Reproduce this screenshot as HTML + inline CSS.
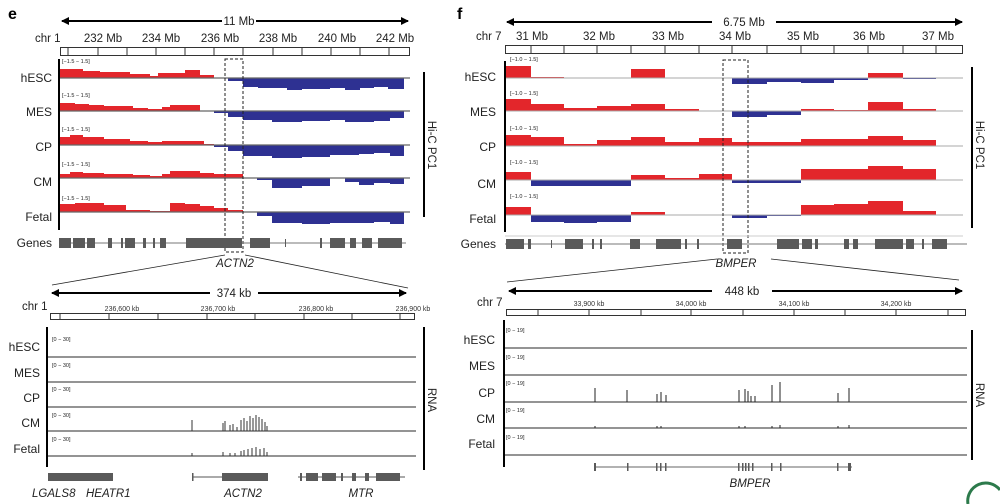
<!DOCTYPE html>
<html><head><meta charset="utf-8"><style>
html,body{margin:0;padding:0;background:#fff;}
svg{display:block;font-family:"Liberation Sans",Arial,sans-serif;}
.t{font-size:11.5px;fill:#222}
.l{font-size:12px;fill:#222;text-anchor:end}
.r{font-size:5.5px;fill:#222}
.s{font-size:7px;fill:#333;text-anchor:middle}
.it{font-style:italic;font-size:11.5px;fill:#222;text-anchor:middle}
.R{fill:#e3262b}.B{fill:#2e3192}.g{fill:#5a5a5a}
</style></head><body>
<svg width="1000" height="504" viewBox="0 0 1000 504">
<defs><marker id="a" markerWidth="8" markerHeight="8" refX="7" refY="4" orient="auto-start-reverse" markerUnits="userSpaceOnUse"><path d="M0,0 L8,4 L0,8 z" fill="#000"/></marker></defs>

<text x="8" y="19" style="font-size:16px;font-weight:bold">e</text>
<line x1="62" y1="21" x2="222" y2="21" stroke="#000" stroke-width="2" marker-start="url(#a)"/>
<line x1="256" y1="21" x2="408" y2="21" stroke="#000" stroke-width="2" marker-end="url(#a)"/>
<text x="239" y="25" class="t" text-anchor="middle">11 Mb</text>
<text x="35" y="42" class="t">chr 1</text>
<text x="103" y="42" class="t" text-anchor="middle">232 Mb</text>
<text x="161" y="42" class="t" text-anchor="middle">234 Mb</text>
<text x="220" y="42" class="t" text-anchor="middle">236 Mb</text>
<text x="278" y="42" class="t" text-anchor="middle">238 Mb</text>
<text x="337" y="42" class="t" text-anchor="middle">240 Mb</text>
<text x="395" y="42" class="t" text-anchor="middle">242 Mb</text>
<rect x="60.5" y="47.5" width="349" height="8" fill="none" stroke="#333"/>
<g stroke="#333"><line x1="68" y1="47" x2="68" y2="56"/><line x1="98" y1="47" x2="98" y2="56"/><line x1="127" y1="47" x2="127" y2="56"/><line x1="156" y1="47" x2="156" y2="56"/><line x1="185" y1="47" x2="185" y2="56"/><line x1="214" y1="47" x2="214" y2="56"/><line x1="243" y1="47" x2="243" y2="56"/><line x1="273" y1="47" x2="273" y2="56"/><line x1="302" y1="47" x2="302" y2="56"/><line x1="331" y1="47" x2="331" y2="56"/><line x1="360" y1="47" x2="360" y2="56"/><line x1="389" y1="47" x2="389" y2="56"/></g>
<line x1="59" y1="59" x2="59" y2="230" stroke="#000" stroke-width="2"/>
<line x1="424" y1="72" x2="424" y2="217" stroke="#000" stroke-width="2"/>
<text transform="translate(428,145) rotate(90)" class="t" text-anchor="middle">Hi-C PC1</text>
<g class="l"><text x="52" y="82">hESC</text><text x="52" y="116">MES</text><text x="52" y="151">CP</text><text x="52" y="186">CM</text><text x="52" y="221">Fetal</text></g>
<g class="r"><text x="62" y="63">[−1.5 − 1.5]</text><text x="62" y="97">[−1.5 − 1.5]</text><text x="62" y="131">[−1.5 − 1.5]</text><text x="62" y="166">[−1.5 − 1.5]</text><text x="62" y="200">[−1.5 − 1.5]</text></g>
<g class="R"><rect x="60" y="69" width="23" height="9"/><rect x="83" y="71" width="17" height="7"/><rect x="100" y="72" width="30" height="6"/><rect x="130" y="74" width="20" height="4"/><rect x="150" y="76" width="8" height="2"/><rect x="158" y="73" width="27" height="5"/><rect x="185" y="70" width="15" height="8"/><rect x="200" y="75" width="14" height="3"/></g>
<g class="B"><rect x="228" y="78" width="15" height="3"/><rect x="243" y="78" width="15" height="9"/><rect x="258" y="78" width="29" height="10"/><rect x="287" y="78" width="15" height="12"/><rect x="302" y="78" width="28" height="11"/><rect x="330" y="78" width="15" height="10"/><rect x="345" y="78" width="15" height="12"/><rect x="360" y="78" width="14" height="10"/><rect x="374" y="78" width="14" height="9"/><rect x="388" y="78" width="16" height="11"/></g>
<g class="R"><rect x="60" y="103" width="15" height="8"/><rect x="75" y="104" width="14" height="7"/><rect x="89" y="105" width="15" height="6"/><rect x="104" y="106" width="29" height="5"/><rect x="133" y="108" width="15" height="3"/><rect x="148" y="109" width="14" height="2"/><rect x="162" y="107" width="8" height="4"/><rect x="170" y="105" width="30" height="6"/></g>
<g class="B"><rect x="214" y="111" width="14" height="2"/><rect x="228" y="111" width="15" height="6"/><rect x="243" y="111" width="29" height="9"/><rect x="272" y="111" width="30" height="11"/><rect x="302" y="111" width="28" height="10"/><rect x="330" y="111" width="15" height="9"/><rect x="345" y="111" width="29" height="11"/><rect x="374" y="111" width="16" height="10"/><rect x="390" y="111" width="14" height="7"/></g>
<g class="R"><rect x="60" y="137" width="10" height="8"/><rect x="70" y="135" width="13" height="10"/><rect x="83" y="137" width="21" height="8"/><rect x="104" y="139" width="26" height="6"/><rect x="130" y="141" width="18" height="4"/><rect x="148" y="142" width="14" height="3"/><rect x="162" y="141" width="42" height="4"/><rect x="204" y="144" width="10" height="1"/></g>
<g class="B"><rect x="214" y="145" width="14" height="2"/><rect x="228" y="145" width="15" height="6"/><rect x="243" y="145" width="29" height="11"/><rect x="272" y="145" width="30" height="13"/><rect x="302" y="145" width="28" height="12"/><rect x="330" y="145" width="29" height="10"/><rect x="359" y="145" width="15" height="9"/><rect x="374" y="145" width="16" height="8"/><rect x="390" y="145" width="14" height="11"/></g>
<g class="R"><rect x="60" y="174" width="10" height="4"/><rect x="70" y="172" width="13" height="6"/><rect x="83" y="173" width="21" height="5"/><rect x="104" y="174" width="29" height="4"/><rect x="133" y="175" width="17" height="3"/><rect x="150" y="176" width="12" height="2"/><rect x="162" y="174" width="8" height="4"/><rect x="170" y="171" width="30" height="7"/><rect x="200" y="173" width="14" height="5"/><rect x="214" y="174" width="29" height="4"/></g>
<g class="B"><rect x="257" y="178" width="15" height="2"/><rect x="272" y="178" width="30" height="10"/><rect x="302" y="178" width="28" height="8"/><rect x="345" y="178" width="14" height="4"/><rect x="359" y="178" width="15" height="7"/><rect x="374" y="178" width="16" height="5"/><rect x="390" y="178" width="14" height="6"/></g>
<g class="R"><rect x="60" y="204" width="15" height="8"/><rect x="75" y="203" width="29" height="9"/><rect x="104" y="205" width="22" height="7"/><rect x="126" y="210" width="24" height="2"/><rect x="150" y="211" width="20" height="1"/><rect x="170" y="203" width="15" height="9"/><rect x="185" y="204" width="15" height="8"/><rect x="200" y="206" width="14" height="6"/><rect x="214" y="208" width="14" height="4"/><rect x="228" y="210" width="15" height="2"/></g>
<g class="B"><rect x="257" y="212" width="15" height="4"/><rect x="272" y="212" width="30" height="11"/><rect x="302" y="212" width="28" height="12"/><rect x="330" y="212" width="44" height="11"/><rect x="374" y="212" width="16" height="10"/><rect x="390" y="212" width="14" height="12"/></g>
<g stroke="#666" stroke-width="1.2"><line x1="60" y1="78" x2="410" y2="78"/><line x1="60" y1="111" x2="410" y2="111"/><line x1="60" y1="145" x2="410" y2="145"/><line x1="60" y1="178" x2="410" y2="178"/><line x1="60" y1="212" x2="410" y2="212"/></g>
<rect x="225" y="59" width="18" height="193" fill="none" stroke="#222" stroke-dasharray="3,2"/>
<text x="52" y="247" class="l">Genes</text>
<line x1="59" y1="243" x2="406" y2="243" stroke="#777"/>
<g class="g"><rect x="59" y="238" width="12" height="10"/><rect x="73" y="238" width="12" height="10"/><rect x="87" y="238" width="8" height="10"/><rect x="108" y="238" width="4" height="10"/><rect x="121" y="238" width="2" height="10"/><rect x="125" y="238" width="10" height="10"/><rect x="143" y="238" width="3" height="10"/><rect x="153" y="238" width="2" height="10"/><rect x="160" y="238" width="6" height="10"/><rect x="186" y="238" width="56" height="10"/><rect x="250" y="238" width="20" height="10"/><rect x="285" y="239" width="1" height="8"/><rect x="320" y="238" width="2" height="10"/><rect x="330" y="238" width="15" height="10"/><rect x="350" y="238" width="6" height="10"/><rect x="362" y="238" width="10" height="10"/><rect x="378" y="238" width="24" height="10"/></g>
<text x="235" y="267" class="it">ACTN2</text>
<line x1="225" y1="255" x2="52" y2="285" stroke="#222" stroke-width="0.8"/>
<line x1="245" y1="255" x2="408" y2="288" stroke="#222" stroke-width="0.8"/>

<line x1="52" y1="293" x2="210" y2="293" stroke="#000" stroke-width="2" marker-start="url(#a)"/>
<line x1="258" y1="293" x2="406" y2="293" stroke="#000" stroke-width="2" marker-end="url(#a)"/>
<text x="234" y="297" class="t" text-anchor="middle">374 kb</text>
<text x="22" y="310" class="t">chr 1</text>
<g class="s"><text x="122" y="311">236,600 kb</text><text x="218" y="311">236,700 kb</text><text x="316" y="311">236,800 kb</text><text x="413" y="311">236,900 kb</text></g>
<rect x="50.5" y="313.5" width="364" height="6" fill="none" stroke="#333"/>
<g stroke="#333"><line x1="60" y1="313" x2="60" y2="320"/><line x1="109" y1="313" x2="109" y2="320"/><line x1="158" y1="313" x2="158" y2="320"/><line x1="207" y1="313" x2="207" y2="320"/><line x1="255" y1="313" x2="255" y2="320"/><line x1="304" y1="313" x2="304" y2="320"/><line x1="352" y1="313" x2="352" y2="320"/><line x1="400" y1="313" x2="400" y2="320"/></g>
<line x1="47" y1="327" x2="47" y2="467" stroke="#000" stroke-width="2"/>
<line x1="424" y1="327" x2="424" y2="470" stroke="#000" stroke-width="2"/>
<text transform="translate(428,400) rotate(90)" class="t" text-anchor="middle">RNA</text>
<g class="l"><text x="40" y="351">hESC</text><text x="40" y="377">MES</text><text x="40" y="402">CP</text><text x="40" y="427">CM</text><text x="40" y="453">Fetal</text></g>
<g class="r"><text x="52" y="341">[0 − 30]</text><text x="52" y="367">[0 − 30]</text><text x="52" y="391">[0 − 30]</text><text x="52" y="417">[0 − 30]</text><text x="52" y="441">[0 − 30]</text></g>
<g stroke="#555" stroke-width="1.2"><line x1="48" y1="357" x2="416" y2="357"/><line x1="48" y1="382" x2="416" y2="382"/><line x1="48" y1="407" x2="416" y2="407"/><line x1="48" y1="431" x2="416" y2="431"/><line x1="48" y1="456" x2="416" y2="456"/></g>
<g stroke="#333" stroke-width="1"><line x1="192" y1="431" x2="192" y2="420"/><line x1="223" y1="431" x2="223" y2="423"/><line x1="225" y1="431" x2="225" y2="421"/><line x1="230" y1="431" x2="230" y2="425"/><line x1="233" y1="431" x2="233" y2="424"/><line x1="237" y1="431" x2="237" y2="427"/><line x1="241" y1="431" x2="241" y2="420"/><line x1="244" y1="431" x2="244" y2="418"/><line x1="247" y1="431" x2="247" y2="421"/><line x1="250" y1="431" x2="250" y2="416"/><line x1="253" y1="431" x2="253" y2="418"/><line x1="256" y1="431" x2="256" y2="415"/><line x1="259" y1="431" x2="259" y2="417"/><line x1="262" y1="431" x2="262" y2="419"/><line x1="265" y1="431" x2="265" y2="422"/><line x1="267" y1="431" x2="267" y2="426"/>
<line x1="192" y1="456" x2="192" y2="453"/><line x1="223" y1="456" x2="223" y2="452"/><line x1="230" y1="456" x2="230" y2="453"/><line x1="235" y1="456" x2="235" y2="453"/><line x1="241" y1="456" x2="241" y2="451"/><line x1="244" y1="456" x2="244" y2="450"/><line x1="248" y1="456" x2="248" y2="449"/><line x1="252" y1="456" x2="252" y2="448"/><line x1="256" y1="456" x2="256" y2="447"/><line x1="260" y1="456" x2="260" y2="449"/><line x1="264" y1="456" x2="264" y2="448"/><line x1="267" y1="456" x2="267" y2="452"/></g>
<line x1="192" y1="477" x2="268" y2="477" stroke="#555"/><line x1="298" y1="477" x2="405" y2="477" stroke="#555"/>
<g class="g"><rect x="48" y="473" width="65" height="8"/><rect x="192" y="473" width="1.5" height="8"/><rect x="222" y="473" width="46" height="8"/><rect x="300" y="473" width="2" height="8"/><rect x="306" y="473" width="12" height="8"/><rect x="322" y="473" width="14" height="8"/><rect x="341" y="473" width="2" height="8"/><rect x="352" y="473" width="4" height="8"/><rect x="365" y="473" width="4" height="8"/><rect x="376" y="473" width="24" height="8"/></g>
<text x="32" y="497" class="it" style="text-anchor:start">LGALS8</text>
<text x="86" y="497" class="it" style="text-anchor:start">HEATR1</text>
<text x="243" y="497" class="it">ACTN2</text>
<text x="361" y="497" class="it">MTR</text>

<text x="457" y="19" style="font-size:16px;font-weight:bold">f</text>
<line x1="507" y1="22" x2="712" y2="22" stroke="#000" stroke-width="2" marker-start="url(#a)"/>
<line x1="776" y1="22" x2="962" y2="22" stroke="#000" stroke-width="2" marker-end="url(#a)"/>
<text x="744" y="26" class="t" text-anchor="middle">6.75 Mb</text>
<text x="476" y="40" class="t">chr 7</text>
<g class="t" text-anchor="middle"><text x="532" y="40">31 Mb</text><text x="599" y="40">32 Mb</text><text x="668" y="40">33 Mb</text><text x="735" y="40">34 Mb</text><text x="803" y="40">35 Mb</text><text x="869" y="40">36 Mb</text><text x="938" y="40">37 Mb</text></g>
<rect x="505.5" y="45.5" width="457" height="8" fill="none" stroke="#333"/>
<g stroke="#333"><line x1="531" y1="45" x2="531" y2="54"/><line x1="564" y1="45" x2="564" y2="54"/><line x1="597" y1="45" x2="597" y2="54"/><line x1="631" y1="45" x2="631" y2="54"/><line x1="665" y1="45" x2="665" y2="54"/><line x1="699" y1="45" x2="699" y2="54"/><line x1="732" y1="45" x2="732" y2="54"/><line x1="767" y1="45" x2="767" y2="54"/><line x1="801" y1="45" x2="801" y2="54"/><line x1="834" y1="45" x2="834" y2="54"/><line x1="868" y1="45" x2="868" y2="54"/><line x1="903" y1="45" x2="903" y2="54"/><line x1="936" y1="45" x2="936" y2="54"/></g>
<line x1="505" y1="61" x2="505" y2="232" stroke="#000" stroke-width="2"/>
<line x1="972" y1="67" x2="972" y2="228" stroke="#000" stroke-width="2"/>
<text transform="translate(976,145) rotate(90)" class="t" text-anchor="middle">Hi-C PC1</text>
<g class="l"><text x="496" y="81">hESC</text><text x="496" y="116">MES</text><text x="496" y="151">CP</text><text x="496" y="188">CM</text><text x="496" y="223">Fetal</text></g>
<g class="r"><text x="510" y="61">[−1.0 − 1.5]</text><text x="510" y="95">[−1.0 − 1.5]</text><text x="510" y="130">[−1.0 − 1.5]</text><text x="510" y="164">[−1.0 − 1.5]</text><text x="510" y="198">[−1.0 − 1.5]</text></g>
<g class="R"><rect x="506" y="66" width="25" height="12"/><rect x="531" y="77" width="33" height="1"/><rect x="631" y="69" width="34" height="9"/><rect x="868" y="73" width="35" height="5"/></g>
<g class="B"><rect x="732" y="78" width="35" height="6"/><rect x="767" y="78" width="34" height="4"/><rect x="801" y="78" width="33" height="5"/><rect x="834" y="78" width="34" height="2"/><rect x="903" y="78" width="33" height="1"/></g>
<g class="R"><rect x="506" y="99" width="25" height="12"/><rect x="531" y="104" width="33" height="7"/><rect x="564" y="108" width="33" height="3"/><rect x="597" y="106" width="34" height="5"/><rect x="631" y="104" width="34" height="7"/><rect x="665" y="109" width="34" height="2"/><rect x="801" y="109" width="33" height="2"/><rect x="834" y="110" width="34" height="1"/><rect x="868" y="102" width="35" height="9"/><rect x="903" y="109" width="33" height="2"/></g>
<g class="B"><rect x="732" y="111" width="35" height="6"/><rect x="767" y="111" width="34" height="4"/></g>
<g class="R"><rect x="506" y="135" width="25" height="11"/><rect x="531" y="137" width="33" height="9"/><rect x="564" y="144" width="33" height="2"/><rect x="597" y="140" width="34" height="6"/><rect x="631" y="137" width="34" height="9"/><rect x="665" y="142" width="34" height="4"/><rect x="699" y="138" width="33" height="8"/><rect x="732" y="142" width="35" height="4"/><rect x="767" y="142" width="34" height="4"/><rect x="801" y="139" width="67" height="7"/><rect x="868" y="136" width="35" height="10"/><rect x="903" y="140" width="33" height="6"/></g>
<g class="R"><rect x="506" y="172" width="25" height="8"/><rect x="631" y="175" width="34" height="5"/><rect x="665" y="178" width="34" height="2"/><rect x="699" y="174" width="33" height="6"/><rect x="801" y="169" width="67" height="11"/><rect x="868" y="166" width="35" height="14"/><rect x="903" y="169" width="33" height="11"/></g>
<g class="B"><rect x="531" y="180" width="100" height="6"/><rect x="732" y="180" width="69" height="3"/></g>
<g class="R"><rect x="506" y="207" width="25" height="8"/><rect x="631" y="212" width="34" height="3"/><rect x="801" y="205" width="33" height="10"/><rect x="834" y="204" width="34" height="11"/><rect x="868" y="201" width="35" height="14"/><rect x="903" y="211" width="33" height="4"/></g>
<g class="B"><rect x="531" y="215" width="33" height="7"/><rect x="564" y="215" width="33" height="8"/><rect x="597" y="215" width="34" height="7"/><rect x="732" y="215" width="35" height="3"/><rect x="767" y="215" width="34" height="1"/></g>
<g stroke="#aaa" stroke-width="1"><line x1="506" y1="78" x2="963" y2="78"/><line x1="506" y1="111" x2="963" y2="111"/><line x1="506" y1="146" x2="963" y2="146"/><line x1="506" y1="180" x2="963" y2="180"/><line x1="506" y1="215" x2="963" y2="215"/></g>
<rect x="723" y="60" width="25" height="193" fill="none" stroke="#222" stroke-dasharray="3,2"/>
<text x="496" y="248" class="l">Genes</text>
<line x1="505" y1="236" x2="963" y2="236" stroke="#ccc"/>
<line x1="505" y1="244" x2="967" y2="244" stroke="#777"/>
<g class="g"><rect x="506" y="239" width="18" height="10"/><rect x="528" y="239" width="3" height="10"/><rect x="551" y="240" width="1" height="8"/><rect x="565" y="239" width="18" height="10"/><rect x="592" y="239" width="2" height="10"/><rect x="600" y="239" width="2" height="10"/><rect x="630" y="239" width="10" height="10"/><rect x="656" y="239" width="25" height="10"/><rect x="685" y="239" width="2" height="10"/><rect x="697" y="239" width="2" height="10"/><rect x="727" y="239" width="15" height="10"/><rect x="777" y="239" width="22" height="10"/><rect x="802" y="239" width="10" height="10"/><rect x="815" y="239" width="3" height="10"/><rect x="844" y="239" width="5" height="10"/><rect x="853" y="239" width="5" height="10"/><rect x="875" y="239" width="28" height="10"/><rect x="906" y="239" width="8" height="10"/><rect x="922" y="239" width="2" height="10"/><rect x="932" y="239" width="15" height="10"/></g>
<text x="736" y="267" class="it">BMPER</text>
<line x1="717" y1="259" x2="507" y2="282" stroke="#222" stroke-width="0.8"/>
<line x1="771" y1="259" x2="959" y2="280" stroke="#222" stroke-width="0.8"/>

<line x1="509" y1="291" x2="712" y2="291" stroke="#000" stroke-width="2" marker-start="url(#a)"/>
<line x1="772" y1="291" x2="962" y2="291" stroke="#000" stroke-width="2" marker-end="url(#a)"/>
<text x="742" y="295" class="t" text-anchor="middle">448 kb</text>
<text x="477" y="306" class="t">chr 7</text>
<g class="s"><text x="589" y="306">33,900 kb</text><text x="691" y="306">34,000 kb</text><text x="794" y="306">34,100 kb</text><text x="896" y="306">34,200 kb</text></g>
<rect x="506.5" y="309.5" width="459" height="6" fill="none" stroke="#333"/>
<g stroke="#333"><line x1="538" y1="309" x2="538" y2="316"/><line x1="589" y1="309" x2="589" y2="316"/><line x1="641" y1="309" x2="641" y2="316"/><line x1="691" y1="309" x2="691" y2="316"/><line x1="743" y1="309" x2="743" y2="316"/><line x1="794" y1="309" x2="794" y2="316"/><line x1="845" y1="309" x2="845" y2="316"/><line x1="896" y1="309" x2="896" y2="316"/><line x1="948" y1="309" x2="948" y2="316"/></g>
<line x1="504" y1="320" x2="504" y2="467" stroke="#000" stroke-width="2"/>
<line x1="972" y1="330" x2="972" y2="460" stroke="#000" stroke-width="2"/>
<text transform="translate(976,395) rotate(90)" class="t" text-anchor="middle">RNA</text>
<g class="l"><text x="495" y="344">hESC</text><text x="495" y="370">MES</text><text x="495" y="397">CP</text><text x="495" y="423">CM</text><text x="495" y="448">Fetal</text></g>
<g class="r"><text x="506" y="332">[0 − 19]</text><text x="506" y="359">[0 − 19]</text><text x="506" y="385">[0 − 19]</text><text x="506" y="412">[0 − 19]</text><text x="506" y="439">[0 − 19]</text></g>
<g stroke="#555" stroke-width="1.2"><line x1="505" y1="348" x2="967" y2="348"/><line x1="505" y1="375" x2="967" y2="375"/><line x1="505" y1="402" x2="967" y2="402"/><line x1="505" y1="428" x2="967" y2="428"/><line x1="505" y1="455" x2="967" y2="455"/></g>
<g stroke="#222" stroke-width="1"><line x1="595" y1="402" x2="595" y2="388"/><line x1="627" y1="402" x2="627" y2="390"/><line x1="657" y1="402" x2="657" y2="394"/><line x1="661" y1="402" x2="661" y2="392"/><line x1="666" y1="402" x2="666" y2="395"/><line x1="739" y1="402" x2="739" y2="390"/><line x1="745" y1="402" x2="745" y2="389"/><line x1="748" y1="402" x2="748" y2="391"/><line x1="751" y1="402" x2="751" y2="396"/><line x1="755" y1="402" x2="755" y2="396"/><line x1="772" y1="402" x2="772" y2="385"/><line x1="780" y1="402" x2="780" y2="382"/><line x1="838" y1="402" x2="838" y2="393"/><line x1="849" y1="402" x2="849" y2="388"/>
<line x1="595" y1="428" x2="595" y2="426"/><line x1="657" y1="428" x2="657" y2="426"/><line x1="661" y1="428" x2="661" y2="426"/><line x1="739" y1="428" x2="739" y2="426"/><line x1="745" y1="428" x2="745" y2="426"/><line x1="772" y1="428" x2="772" y2="426"/><line x1="780" y1="428" x2="780" y2="425"/><line x1="838" y1="428" x2="838" y2="426"/><line x1="849" y1="428" x2="849" y2="425"/></g>
<line x1="595" y1="467" x2="852" y2="467" stroke="#666"/>
<g class="g"><rect x="594" y="463" width="2" height="8"/><rect x="627" y="463" width="1.5" height="8"/><rect x="656" y="463" width="1.5" height="8"/><rect x="660" y="463" width="1.5" height="8"/><rect x="665" y="463" width="1.5" height="8"/><rect x="738" y="463" width="1.5" height="8"/><rect x="742" y="463" width="1.5" height="8"/><rect x="745" y="463" width="1.5" height="8"/><rect x="748" y="463" width="1.5" height="8"/><rect x="752" y="463" width="1.5" height="8"/><rect x="771" y="463" width="1.5" height="8"/><rect x="780" y="463" width="1.5" height="8"/><rect x="837" y="463" width="1.5" height="8"/><rect x="848" y="463" width="3" height="8"/></g>
<text x="750" y="487" class="it">BMPER</text>
<path d="M968,504 A18,18 0 0 1 1000,490" fill="none" stroke="#2c7a4b" stroke-width="3"/>
</svg>
</body></html>
